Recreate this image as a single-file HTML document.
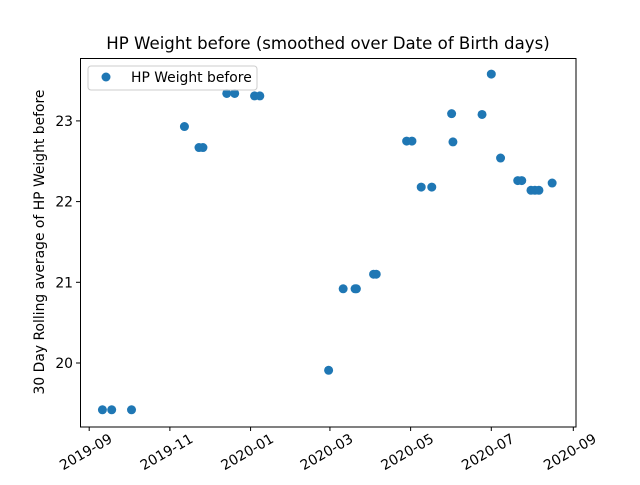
<!DOCTYPE html>
<html><head><meta charset="utf-8"><style>
body{margin:0;background:#fff}
svg text{font-family:"DejaVu Sans","Liberation Sans",sans-serif;fill:#000}
</style></head><body>
<svg id="c" width="640" height="480">
<rect x="0" y="0" width="640" height="480" fill="#fff"/>
<text x="328" y="49" font-size="16.6" text-anchor="middle">HP Weight before (smoothed over Date of Birth days)</text>
<text transform="translate(44,242) rotate(-90)" font-size="13.9" text-anchor="middle">30 Day Rolling average of HP Weight before</text>
<g id="marks"></g>
<g id="axes"></g>
<rect x="80.5" y="58.5" width="495.5" height="368.5" fill="none" stroke="#000" stroke-width="1"/>
<g>
<rect x="88" y="66" width="169" height="24" rx="3" fill="#fff" fill-opacity="0.8" stroke="#ccc"/>
<circle cx="106" cy="77" r="4.5" fill="#1f77b4"/>
<text x="131" y="82" font-size="13.9">HP Weight before</text>
</g>
</svg>
<script>
const dates=["2019-09-11","2019-09-18","2019-10-03","2019-11-12","2019-11-23","2019-11-26","2019-12-14","2019-12-20","2020-01-04","2020-01-08","2020-02-29","2020-03-11","2020-03-20","2020-03-21","2020-04-03","2020-04-05","2020-04-28","2020-05-02","2020-05-09","2020-05-17","2020-06-01","2020-06-02","2020-06-24","2020-07-01","2020-07-08","2020-07-21","2020-07-24","2020-07-31","2020-08-03","2020-08-06","2020-08-16"];
const values=[19.42,19.42,19.42,22.93,22.67,22.67,23.34,23.34,23.31,23.31,19.91,20.92,20.92,20.92,21.1,21.1,22.75,22.75,22.18,22.18,23.09,22.74,23.08,23.58,22.54,22.26,22.26,22.14,22.14,22.14,22.23];
const xTicks=["2019-09","2019-11","2020-01","2020-03","2020-05","2020-07","2020-09"];
const yTicks=[20,21,22,23];
const NS="http://www.w3.org/2000/svg";
const t0=Date.UTC(2019,8,1),day=86400000;
function xs(d){const p=d.split("-");const t=Date.UTC(+p[0],+p[1]-1,p[2]?+p[2]:1);return 89.2+(t-t0)/day*1.3227;}
function ys(v){return 363-(v-20)*80.7;}
const marks=document.getElementById("marks"),axes=document.getElementById("axes");
dates.forEach((d,i)=>{const c=document.createElementNS(NS,"circle");
c.setAttribute("cx",xs(d));c.setAttribute("cy",ys(values[i]));c.setAttribute("r",4.5);c.setAttribute("fill","#1f77b4");


marks.appendChild(c);});
xTicks.forEach(l=>{const x=xs(l);
const ln=document.createElementNS(NS,"line");ln.setAttribute("x1",x);ln.setAttribute("x2",x);ln.setAttribute("y1",427);ln.setAttribute("y2",431);ln.setAttribute("stroke","#000");


axes.appendChild(ln);
const t=document.createElementNS(NS,"text");t.setAttribute("font-size","13.9");t.setAttribute("text-anchor","middle");
t.setAttribute("transform","translate("+(x-1)+",456) rotate(-30)");t.textContent=l;


axes.appendChild(t);});
yTicks.forEach(v=>{const y=ys(v);
const ln=document.createElementNS(NS,"line");ln.setAttribute("x1",76);ln.setAttribute("x2",80);ln.setAttribute("y1",y);ln.setAttribute("y2",y);ln.setAttribute("stroke","#000");


axes.appendChild(ln);
const t=document.createElementNS(NS,"text");t.setAttribute("font-size","13.9");t.setAttribute("text-anchor","end");
t.setAttribute("x",73);t.setAttribute("y",y+5);t.textContent=v;


axes.appendChild(t);});
</script>
</body></html>
